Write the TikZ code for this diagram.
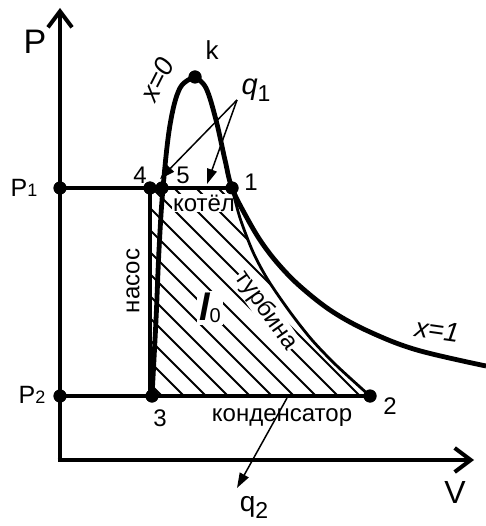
\documentclass[tikz,border=0pt]{standalone}
\usepackage{fontspec}
\setmainfont{Liberation Sans}
\usetikzlibrary{arrows.meta}
\newcommand{\fs}[1]{\fontsize{#1}{#1}\selectfont}
\begin{document}
\begin{tikzpicture}[x=1pt,y=-1pt,
  thickline/.style={line width=4.8pt},
  turbline/.style={line width=2.8pt},
  hatchline/.style={line width=1.9pt},
  qarrow/.style={line width=1.5pt,-{Triangle[length=15pt,width=10pt]}},
  axis/.style={line width=4.8pt,-{Straight Barb[length=16pt,width=24pt,line width=4pt]}},
  dot/.style={circle,fill=black,minimum size=13pt,inner sep=0pt},
  lbl/.style={inner sep=1pt,font=\fs{24}},
  wlbl/.style={lbl,fill=white,inner sep=1pt},
]
\useasboundingbox (0,0) rectangle (485,526);
% points
\node[dot] (pP1) at (60,188) {};
\node[dot] (pP2) at (60,396) {};
\node[dot] (p4) at (150,188) {};
\node[dot] (p5) at (162,188) {};
\node[dot] (p1) at (232,188) {};
\node[dot] (pk) at (195,77) {};
\node[dot] (p3) at (152,396) {};
\node[dot] (p2) at (370,396) {};
\coordinate (O) at (60,460);
\coordinate (ytop) at (60,8);
\coordinate (xend) at (474,460);
% hatching
\begin{scope}
\clip (150,188) -- (p1.center) -- plot[smooth] coordinates {(p1.center) (240,218) (253,252) (268,280) (290,312) (312,340) (337,366) (370,396)} -- (150,396) -- cycle;
\foreach \c in {-234,-212,...,50}
  \draw[hatchline] (\c+100,100) -- (\c+460,460);
\end{scope}
% labels that interrupt hatching
\node[wlbl] (kotel) at (204,203) {котёл};
\node[wlbl,rotate=-55,inner sep=0.5pt] (turb) at (266,311) {турбина};
\node[wlbl,inner sep=2pt] (l0) at (210,308) {{\fs{38}\bfseries\itshape l}{\fs{20}\raisebox{-2pt}{0}}};
% axes
\draw[axis] (O) -- (ytop);
\draw[axis] ([xshift=-2.4pt]O) -- (xend);
% isobars and pump
\draw[thickline] (pP1.center) -- (p1.center);
\draw[thickline] (pP2.center) -- (p2.center);
\draw[thickline] (p4.center) -- (150,396) -- (p3.center);
% turbine expansion
\draw[turbline] plot[smooth] coordinates {(p1.center) (240,218) (253,252) (268,280) (290,312) (312,340) (337,366) (p2.center)};
% saturation dome x=0 and x=1
\draw[thickline] plot[smooth,tension=0.6] coordinates {(p3.center) (156,320) (159,250) (163,188) (170,125) (180,88) (pk.center)};
\draw[thickline] plot[smooth,tension=0.6] coordinates {(pk.center) (206,88) (216,120) (225,160) (p1.center) (247,218) (262,243) (280,266) (302,288) (333,312) (370,332) (417,350) (486,366)};
% redraw dots on top
\foreach \n in {pP1,pP2,p4,p5,p1,pk,p3,p2} \fill (\n) circle (6.5pt);
% heat arrows
\coordinate (q1s) at (237,100);
\coordinate (q1a) at (160,179);
\coordinate (q1b) at (207,184);
\draw[qarrow] (q1s) -- (q1a);
\draw[qarrow] (q1s) -- (q1b);
\coordinate (q2s) at (287,398);
\coordinate (q2e) at (237,488);
\draw[qarrow] (q2s) -- (q2e);
% labels
\node[lbl,font=\fs{34}] (lP) at (35,42) {P};
\node[lbl,font=\fs{32}] (lV) at (455,492) {V};
\node[lbl,font=\fs{26}] (lk) at (212,50) {k};
\node[lbl] (l4) at (140,175) {4};
\node[lbl] (l5) at (183,175) {5};
\node[lbl] (l1) at (251,182) {1};
\node[lbl] (l3) at (160,418) {3};
\node[lbl] (l2) at (390,406) {2};
\node[lbl,font=\fs{25}] (lP1) at (24,188) {P{\fs{18}1}};
\node[lbl,font=\fs{25}] (lP2) at (32,395) {P{\fs{18}2}};
\node[lbl,rotate=90] (nasos) at (133,281) {насос};
\node[lbl] (kond) at (282,418) {конденсатор};
\node[lbl,font=\fs{27}\itshape,rotate=63] (x0) at (157,80) {x=0};
\node[lbl,font=\fs{27}\itshape,rotate=-8] (x1) at (437,330) {x=1};
\node[lbl] (q1) at (256,90) {{\fs{29}\itshape q}{\fs{23}\raisebox{-7pt}{1}}};
\node[lbl] (q2) at (254,507) {{\fs{28}q}{\fs{23}\raisebox{-7pt}{2}}};
\end{tikzpicture}
\end{document}
